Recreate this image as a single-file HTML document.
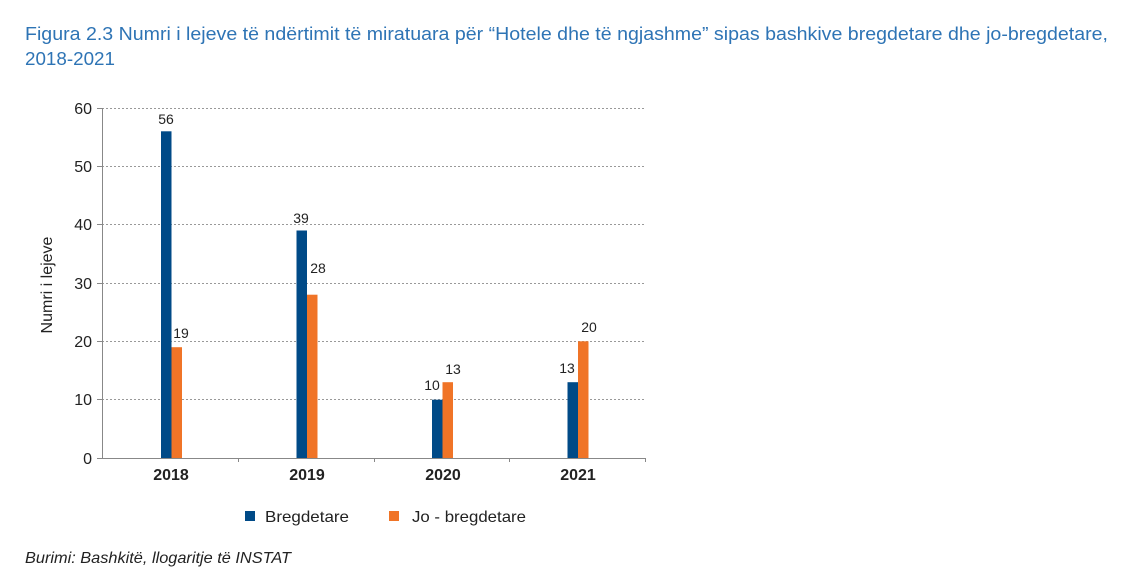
<!DOCTYPE html>
<html><head><meta charset="utf-8"><style>
body{margin:0;background:#fff;width:1144px;height:576px;overflow:hidden;font-family:"Liberation Sans",sans-serif}
</style></head><body>
<svg width="1144" height="576" xmlns="http://www.w3.org/2000/svg" font-family="Liberation Sans, sans-serif">
<text x="25" y="40" font-size="18" fill="#2e74b5" textLength="1083" lengthAdjust="spacingAndGlyphs">Figura 2.3 Numri i lejeve të ndërtimit të miratuara për “Hotele dhe të ngjashme” sipas bashkive bregdetare dhe jo-bregdetare,</text>
<text x="25" y="65" font-size="18" fill="#2e74b5" textLength="90" lengthAdjust="spacingAndGlyphs">2018-2021</text>
<g stroke="#999" stroke-dasharray="2,2" stroke-width="1">
<line x1="102" x2="645" y1="108.5" y2="108.5"/>
<line x1="102" x2="645" y1="166.5" y2="166.5"/>
<line x1="102" x2="645" y1="224.5" y2="224.5"/>
<line x1="102" x2="645" y1="283.5" y2="283.5"/>
<line x1="102" x2="645" y1="341.5" y2="341.5"/>
<line x1="102" x2="645" y1="399.5" y2="399.5"/>
</g>
<g stroke="#888" stroke-width="1">
<line x1="102.5" x2="102.5" y1="108" y2="458"/>
<line x1="102" x2="645" y1="458.5" y2="458.5"/>
<line x1="97" x2="102" y1="108.5" y2="108.5"/><line x1="97" x2="102" y1="166.5" y2="166.5"/>
<line x1="97" x2="102" y1="224.5" y2="224.5"/><line x1="97" x2="102" y1="283.5" y2="283.5"/>
<line x1="97" x2="102" y1="341.5" y2="341.5"/><line x1="97" x2="102" y1="399.5" y2="399.5"/>
<line x1="97" x2="102" y1="458.5" y2="458.5"/>
<line x1="238.5" x2="238.5" y1="458" y2="462"/><line x1="374.5" x2="374.5" y1="458" y2="462"/>
<line x1="509.5" x2="509.5" y1="458" y2="462"/><line x1="645.5" x2="645.5" y1="458" y2="462"/>
</g>
<g font-size="16" fill="#222" text-anchor="end">
<text x="92" y="114">60</text><text x="92" y="172">50</text><text x="92" y="230">40</text>
<text x="92" y="289">30</text><text x="92" y="347">20</text><text x="92" y="405">10</text><text x="92" y="464">0</text>
</g>
<text transform="translate(52,285) rotate(-90)" font-size="16" fill="#222" text-anchor="middle">Numri i lejeve</text>
<g fill="#004a87">
<rect x="161" y="131.3" width="10.5" height="326.7"/>
<rect x="296.5" y="230.5" width="10.5" height="227.5"/>
<rect x="432" y="399.7" width="10.5" height="58.3"/>
<rect x="567.5" y="382.2" width="10.5" height="75.8"/>
</g>
<g fill="#f07427">
<rect x="171.5" y="347.2" width="10.5" height="110.8"/>
<rect x="307" y="294.7" width="10.5" height="163.3"/>
<rect x="442.5" y="382.2" width="10.5" height="75.8"/>
<rect x="578" y="341.3" width="10.5" height="116.7"/>
</g>
<g font-size="14" fill="#222" text-anchor="middle">
<text x="166" y="124">56</text><text x="181" y="338">19</text>
<text x="301" y="223">39</text><text x="318" y="273">28</text>
<text x="432" y="390">10</text><text x="453" y="374">13</text>
<text x="567" y="373">13</text><text x="589" y="332">20</text>
</g>
<g font-size="16" font-weight="bold" fill="#222" text-anchor="middle">
<text x="171" y="480">2018</text><text x="307" y="480">2019</text>
<text x="443" y="480">2020</text><text x="578" y="480">2021</text>
</g>
<rect x="245" y="511" width="10" height="10" fill="#004a87"/>
<text x="265" y="522" font-size="16" fill="#222" textLength="84" lengthAdjust="spacingAndGlyphs">Bregdetare</text>
<rect x="389" y="511" width="10" height="10" fill="#f07427"/>
<text x="412" y="522" font-size="16" fill="#222" textLength="114" lengthAdjust="spacingAndGlyphs">Jo - bregdetare</text>
<text x="25" y="563" font-size="16" font-style="italic" fill="#222" textLength="266" lengthAdjust="spacingAndGlyphs">Burimi: Bashkitë, llogaritje të INSTAT</text>
</svg>
</body></html>
